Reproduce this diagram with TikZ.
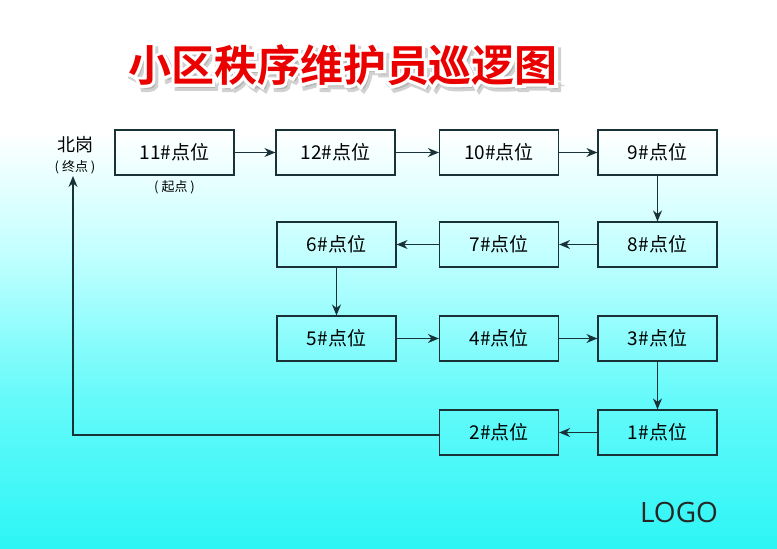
\documentclass[tikz,border=0pt]{standalone}
\usepackage{fontspec}
\newfontfamily\cjk{Noto Sans CJK SC}
\newfontfamily\cjkb{Noto Sans CJK SC Bold}
\newfontfamily\cjkout[FakeBold=14]{Noto Sans CJK SC Bold}
\newfontfamily\logofont{Open Sans}
\usetikzlibrary{arrows.meta}
\definecolor{cbot}{RGB}{45,245,245}
\definecolor{cmid}{RGB}{100,250,250}
\definecolor{cup}{RGB}{195,255,255}
\definecolor{linec}{RGB}{25,50,55}
\pgfdeclareverticalshading{bgshade}{100bp}{color(0bp)=(cbot); color(25bp)=(cbot); color(38.5bp)=(cmid); color(52bp)=(cup); color(63bp)=(white); color(100bp)=(white)}
\tikzset{
  pt/.style={draw=linec, line width=1.2pt, minimum width=119pt, minimum height=45pt, inner sep=0pt, font=\cjk\fontsize{19}{19}\selectfont},
  conn/.style={draw=linec, line width=1.2pt, -{Stealth[length=11pt,width=9pt]}},
  small/.style={font=\cjk\fontsize{13}{13}\selectfont, inner sep=0pt},
  ttl/.style={font=\cjkb\fontsize{43}{43}\selectfont, inner sep=0pt}
}
\begin{document}
\begin{tikzpicture}[x=1pt,y=-1pt]
\shade[shading=bgshade] (0,0) rectangle (777,549);
\useasboundingbox (0,0) rectangle (777,549);
% title
\node[ttl, font=\cjkout\fontsize{43}{43}\selectfont, text=black!45, opacity=0.4] (tshadow) at (346,69) {小区秩序维护员巡逻图};
\node[ttl, font=\cjkout\fontsize{43}{43}\selectfont, text=white] (toutline) at (343,65) {小区秩序维护员巡逻图};
\node[ttl, text=red!92!black] (title) at (343,65) {小区秩序维护员巡逻图};
% boxes
\node[pt] (p11) at (174.5,152.5) {11\#点位};
\node[pt] (p12) at (335.5,152.5) {12\#点位};
\node[pt] (p10) at (499,152.5) {10\#点位};
\node[pt] (p9) at (657.5,152.5) {9\#点位};
\node[pt] (p6) at (336.5,244.5) {6\#点位};
\node[pt] (p7) at (499,244.5) {7\#点位};
\node[pt] (p8) at (657.5,244.5) {8\#点位};
\node[pt] (p5) at (336.5,338.5) {5\#点位};
\node[pt] (p4) at (499,338.5) {4\#点位};
\node[pt] (p3) at (657.5,338.5) {3\#点位};
\node[pt] (p2) at (499,432.5) {2\#点位};
\node[pt] (p1) at (657.5,432.5) {1\#点位};
% labels
\node[font=\cjk\fontsize{18}{18}\selectfont, inner sep=0pt] (north) at (75,145) {北岗};
\node[small] (end) at (75,167) {( 终点 )};
\node[small] (start) at (174.5,187) {( 起点 )};
\node[font=\logofont\fontsize{28}{28}\selectfont, text=black!85, inner sep=0pt] (logo) at (679,512) {LOGO};
% connectors
\draw[conn] (p11) -- (p12);
\draw[conn] (p12) -- (p10);
\draw[conn] (p10) -- (p9);
\draw[conn] (p9) -- (p8);
\draw[conn] (p8) -- (p7);
\draw[conn] (p7) -- (p6);
\draw[conn] (p6) -- (p5);
\draw[conn] (p5) -- (p4);
\draw[conn] (p4) -- (p3);
\draw[conn] (p3) -- (p1);
\draw[conn] (p1) -- (p2);
\coordinate (corner) at (73,435);
\draw[conn] (p2.west |- corner) -- (corner) -- (73,176);
\end{tikzpicture}
\end{document}
